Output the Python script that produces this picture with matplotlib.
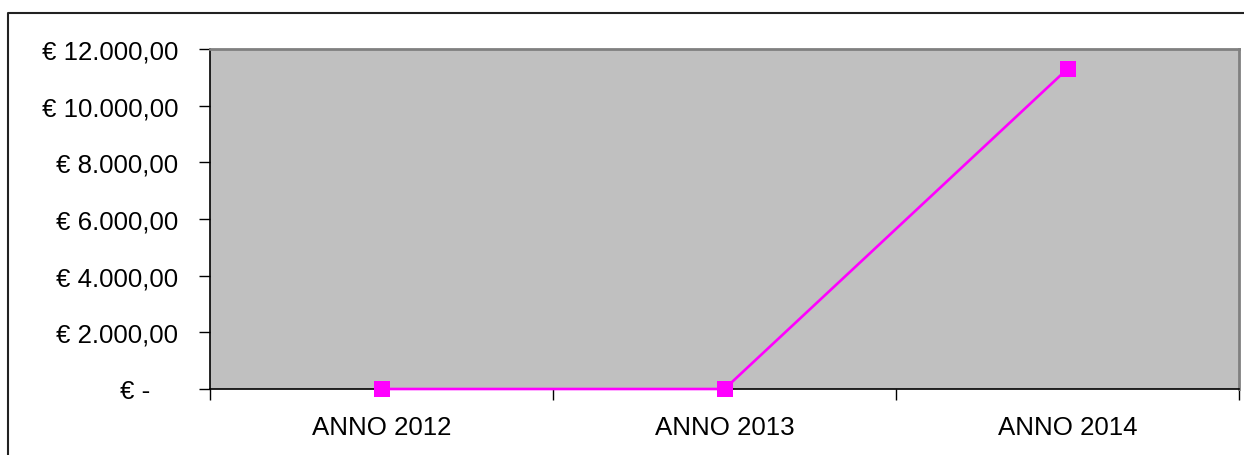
import matplotlib
matplotlib.use("Agg")
import matplotlib.pyplot as plt
from matplotlib.lines import Line2D
from matplotlib.ticker import FixedLocator, FuncFormatter
from matplotlib.transforms import ScaledTranslation

years = ["ANNO 2012", "ANNO 2013", "ANNO 2014"]
amounts = [0.0, 0.0, 11300.0]
y_ticks = [0, 2000, 4000, 6000, 8000, 10000, 12000]

plt.rcParams["font.family"] = ["Liberation Sans", "DejaVu Sans"]

W, H = 1244, 456
fig = plt.figure(figsize=(W / 100, H / 100), dpi=100)
ax = fig.add_axes([210 / W, 1 - 390 / H, (1239 - 210) / W, (390 - 50) / H])
ax.set_facecolor("#C0C0C0")

x = list(range(len(years)))
ax.plot(x, amounts, color="#FF00FF", lw=1.9, marker="s", markersize=11.3,
        markeredgewidth=0, zorder=3, clip_on=False)

ax.set_xlim(-0.5, len(years) - 0.5)
ax.set_ylim(0, 12000)


def euro(v, pos):
    if v == 0:
        return "€ -"
    s = f"{v:,.2f}".replace(",", "X").replace(".", ",").replace("X", ".")
    return "€ " + s


ax.yaxis.set_major_locator(FixedLocator(y_ticks))
ax.yaxis.set_major_formatter(FuncFormatter(euro))
ax.tick_params(axis="y", direction="out", length=8, width=1, pad=15,
               labelsize=18.6, colors="black")

ax.xaxis.set_major_locator(FixedLocator([i - 0.5 for i in range(len(years) + 1)]))
ax.xaxis.set_major_formatter(FuncFormatter(lambda v, p: ""))
ax.xaxis.set_minor_locator(FixedLocator(x))
ax.xaxis.set_minor_formatter(FuncFormatter(lambda v, p: years[int(round(v))]))
ax.tick_params(axis="x", which="major", direction="out", length=8, width=1)
ax.tick_params(axis="x", which="minor", length=0, pad=19, labelsize=18.6)

for side in ["left", "bottom"]:
    ax.spines[side].set_color("black")
    ax.spines[side].set_linewidth(1.2)
for side in ["top", "right"]:
    ax.spines[side].set_color("#808080")
    ax.spines[side].set_linewidth(2)

# "€ -" sits further left in the accounting format
zero_tick = ax.yaxis.get_major_ticks()[0]
zero_tick.label1.set_transform(zero_tick.label1.get_transform()
                               + ScaledTranslation(-0.28, 0, fig.dpi_scale_trans))

# chart frame (only left and top visible)
fig.add_artist(Line2D([8 / W, 8 / W, 1.01], [-0.01, 1 - 14 / H, 1 - 14 / H],
                      transform=fig.transFigure, color="#222222", lw=1.5))

fig.savefig("out.png", dpi=100)
